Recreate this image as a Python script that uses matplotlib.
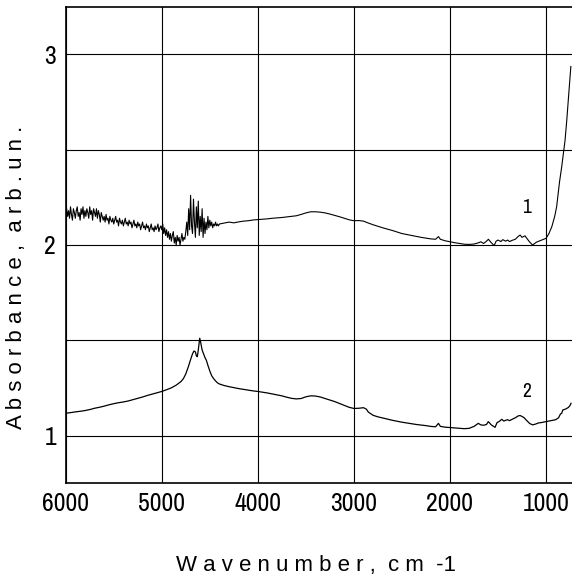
import matplotlib
matplotlib.use("Agg")
import matplotlib.pyplot as plt
from matplotlib import font_manager
from matplotlib.ticker import FixedLocator

names = {f.name for f in font_manager.fontManager.ttflist}
NARROW = next((n for n in ["Liberation Sans Narrow", "Archivo Narrow"] if n in names), "DejaVu Sans")
REG = "Liberation Sans"

# ---- curve 1 (upper spectrum) ----
wn1_noisy = list(range(6000, 4399, -10))
ab1_noisy = [
    2.17, 2.19, 2.15, 2.18, 2.14, 2.20, 2.16, 2.13, 2.19, 2.17,
    2.14, 2.18, 2.20, 2.15, 2.17, 2.13, 2.19, 2.16, 2.20, 2.14,
    2.18, 2.15, 2.19, 2.17, 2.14, 2.20, 2.16, 2.18, 2.13, 2.19,
    2.17, 2.15, 2.19, 2.14, 2.18, 2.16, 2.12, 2.17, 2.15, 2.13,
    2.15, 2.12, 2.16, 2.13, 2.14, 2.11, 2.15, 2.13, 2.12, 2.14,
    2.11, 2.13, 2.15, 2.12, 2.13, 2.10, 2.14, 2.12, 2.11, 2.13,
    2.10, 2.12, 2.14, 2.11, 2.12, 2.10, 2.13, 2.11, 2.12, 2.09,
    2.11, 2.13, 2.10, 2.11, 2.09, 2.12, 2.10, 2.11, 2.08, 2.10,
    2.12, 2.09, 2.10, 2.08, 2.11, 2.09, 2.10, 2.07, 2.09, 2.11,
    2.08, 2.09, 2.07, 2.10, 2.08, 2.09, 2.11, 2.07, 2.09, 2.10,
    2.08, 2.11, 2.06, 2.09, 2.05, 2.08, 2.04, 2.07, 2.03, 2.06,
    2.02, 2.05, 2.07, 2.01, 2.04, 2.00, 2.05, 2.02, 2.04, 2.00,
    2.03, 2.06, 2.02, 2.04, 2.03,
    2.07, 2.12, 2.05, 2.19, 2.08, 2.26, 2.10, 2.06, 2.24, 2.12,
    2.04, 2.20, 2.09, 2.23, 2.05, 2.15, 2.07, 2.19, 2.04, 2.14, 2.06,
    2.12, 2.08, 2.15, 2.09, 2.13, 2.10, 2.12, 2.09, 2.11, 2.10, 2.12, 2.10, 2.11, 2.10, 2.11,
]
wn1_smooth = [4350, 4300, 4250, 4200, 4150, 4100, 4050, 4000, 3950, 3900, 3850, 3800, 3750, 3700,
              3650, 3600, 3550, 3500, 3450, 3400, 3350, 3300, 3250, 3200, 3150, 3100, 3050, 3000,
              2950, 2900, 2850, 2800, 2750, 2700, 2650, 2600, 2550, 2500, 2450, 2400, 2350, 2300,
              2250, 2200, 2150, 2120, 2100, 2050, 2000, 1950, 1900, 1850, 1800, 1750, 1700, 1680,
              1650, 1620, 1600, 1570, 1540, 1520, 1500, 1470, 1450, 1420, 1400, 1380, 1350, 1320,
              1290, 1270, 1250, 1220, 1200, 1170, 1140, 1100, 1050, 1000, 970, 940, 910, 890, 860,
              837, 820, 802, 785, 768, 755, 742]
ab1_smooth = [2.115, 2.12, 2.116, 2.121, 2.125, 2.127, 2.131, 2.133, 2.135, 2.137, 2.14, 2.142, 2.144, 2.147,
              2.15, 2.153, 2.16, 2.168, 2.174, 2.174, 2.172, 2.168, 2.162, 2.155, 2.148, 2.14, 2.132, 2.127,
              2.128, 2.125, 2.115, 2.106, 2.098, 2.09, 2.083, 2.076, 2.068, 2.06, 2.055, 2.05, 2.045, 2.04,
              2.036, 2.032, 2.03, 2.044, 2.03, 2.022, 2.017, 2.012, 2.008, 2.004, 2.003, 2.005, 2.012, 2.017,
              2.008, 2.02, 2.03, 2.012, 1.997, 2.02, 2.026, 2.018, 2.028, 2.02, 2.026, 2.018, 2.025, 2.03,
              2.045, 2.052, 2.04, 2.048, 2.035, 2.015, 2.0, 2.015, 2.025, 2.035, 2.06, 2.096, 2.15, 2.20, 2.33,
              2.41, 2.48, 2.55, 2.65, 2.76, 2.85, 2.935]
wavenumber_1 = wn1_noisy + wn1_smooth
absorbance_1 = ab1_noisy + ab1_smooth

# ---- curve 2 (lower spectrum) ----
wavenumber_2 = [6000, 5950, 5900, 5850, 5800, 5750, 5700, 5650, 5600, 5550, 5500, 5450, 5400, 5350,
                5300, 5250, 5200, 5150, 5100, 5050, 5000, 4950, 4900, 4850, 4800, 4775, 4750, 4725,
                4700, 4680, 4665, 4650, 4640, 4630, 4620, 4605, 4595, 4580, 4565, 4550, 4535, 4520,
                4500, 4480, 4460, 4440, 4420, 4400, 4350, 4300, 4250, 4200, 4150, 4100, 4050, 4000,
                3950, 3900, 3850, 3800, 3750, 3700, 3650, 3600, 3550, 3500, 3450, 3400, 3350, 3300,
                3250, 3200, 3150, 3100, 3050, 3000, 2950, 2900, 2870, 2850, 2800, 2750, 2700, 2650,
                2600, 2550, 2500, 2450, 2400, 2350, 2300, 2250, 2200, 2150, 2120, 2100, 2050, 2000,
                1950, 1900, 1850, 1800, 1750, 1705, 1680, 1650, 1620, 1601, 1570, 1540, 1531, 1510,
                1490, 1461, 1440, 1420, 1400, 1380, 1350, 1320, 1290, 1271, 1250, 1230, 1200, 1170,
                1140, 1110, 1080, 1050, 1000, 950, 900, 870, 850, 837, 826, 800, 768, 750, 740]
absorbance_2 = [1.119, 1.122, 1.126, 1.129, 1.133, 1.138, 1.145, 1.150, 1.156, 1.163, 1.169, 1.174, 1.178, 1.183,
                1.19, 1.197, 1.204, 1.212, 1.219, 1.226, 1.233, 1.242, 1.252, 1.266, 1.285, 1.30, 1.325, 1.36,
                1.40, 1.43, 1.445, 1.44, 1.42, 1.415, 1.45, 1.512, 1.49, 1.45, 1.43, 1.41, 1.395, 1.37,
                1.34, 1.315, 1.30, 1.288, 1.278, 1.272, 1.264, 1.258, 1.253, 1.248, 1.244, 1.24, 1.236, 1.233,
                1.229, 1.225, 1.22, 1.215, 1.21, 1.203, 1.197, 1.194, 1.196, 1.205, 1.21, 1.209, 1.204, 1.196,
                1.188, 1.18, 1.17, 1.16, 1.15, 1.144, 1.145, 1.148, 1.14, 1.125, 1.108, 1.1, 1.094, 1.088,
                1.082, 1.077, 1.072, 1.068, 1.064, 1.06, 1.057, 1.054, 1.05, 1.048, 1.066, 1.05, 1.046, 1.044,
                1.042, 1.04, 1.038, 1.04, 1.05, 1.066, 1.058, 1.056, 1.06, 1.075, 1.058, 1.048, 1.045, 1.07,
                1.075, 1.087, 1.078, 1.082, 1.085, 1.08, 1.088, 1.095, 1.105, 1.107, 1.102, 1.096, 1.08, 1.065,
                1.058, 1.062, 1.068, 1.07, 1.075, 1.08, 1.085, 1.095, 1.115, 1.119, 1.136, 1.14, 1.149, 1.16, 1.171]

x_ticks = [6000, 5000, 4000, 3000, 2000, 1000]
x_ticklabels = ["6000", "5000", "4000", "3000", "2000", "1000"]
y_ticks = [1, 2, 3]
y_ticklabels = ["1", "2", "3"]
y_grid_minor = [1.5, 2.5]
curve_labels = ["1", "2"]
curve_label_pos = [(1201, 2.194), (1201, 1.232)]

W, H = 572, 583
fig = plt.figure(figsize=(W / 100, H / 100), dpi=100)
ax = fig.add_axes([65.7 / W, 1 - 483.3 / H, (W - 65.7) / W, (483.3 - 6.7) / H])

ax.plot(wavenumber_1, absorbance_1, color="black", lw=0.8)
ax.plot(wavenumber_2, absorbance_2, color="black", lw=0.9)

ax.set_xlim(6000, 730)
ax.set_ylim(0.752, 3.248)
ax.xaxis.set_major_locator(FixedLocator(x_ticks))
ax.set_xticklabels(x_ticklabels)
ax.yaxis.set_major_locator(FixedLocator(y_ticks))
ax.set_yticklabels(y_ticklabels)
ax.yaxis.set_minor_locator(FixedLocator(y_grid_minor))
ax.grid(True, which="both", color="black", lw=0.8)
ax.tick_params(which="both", length=0)
ax.tick_params(axis="x", pad=6, labelsize=18.5)
ax.tick_params(axis="y", pad=7, labelsize=18.5)
for lab in ax.get_xticklabels() + ax.get_yticklabels():
    lab.set_fontfamily(NARROW)
    lab.set_fontweight("medium")
    if NARROW == "DejaVu Sans":
        lab.set_fontstretch("condensed")
for s in ["left", "bottom", "top"]:
    ax.spines[s].set_linewidth(1.2)
ax.spines["right"].set_visible(False)

for (xx, yy), t in zip(curve_label_pos, curve_labels):
    ax.text(xx, yy, t, ha="center", va="center", fontsize=14, family=NARROW)

fig.text(316 / W, 1 - 566 / H, "W a v e n u m b e r ,  c m  -1", ha="center", va="center",
         fontsize=16, family=REG)
fig.text(17 / W, 1 - 277 / H, "A b s o r b a n c e ,  a r b . u n .", ha="center", va="center",
         rotation=90, fontsize=16, family=REG)

fig.savefig("out.png", dpi=100)
